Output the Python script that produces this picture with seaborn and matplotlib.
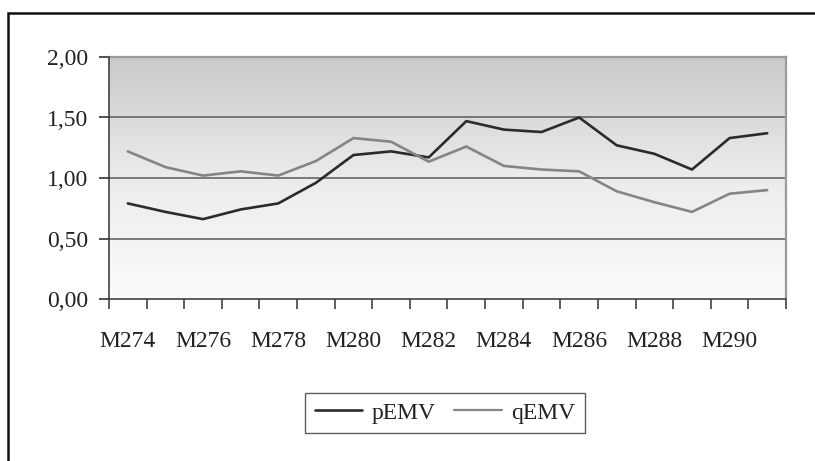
import numpy as np
import pandas as pd
import matplotlib
matplotlib.use("Agg")
import matplotlib.pyplot as plt
from matplotlib.patches import Rectangle
from matplotlib.lines import Line2D
import seaborn as sns

months = ["M274", "M275", "M276", "M277", "M278", "M279", "M280", "M281", "M282",
          "M283", "M284", "M285", "M286", "M287", "M288", "M289", "M290", "M291"]
pemv = [0.79, 0.72, 0.66, 0.74, 0.79, 0.96, 1.19, 1.22, 1.17,
        1.47, 1.40, 1.38, 1.50, 1.27, 1.20, 1.07, 1.33, 1.37]
qemv = [1.22, 1.09, 1.02, 1.055, 1.02, 1.14, 1.33, 1.30, 1.135,
        1.26, 1.10, 1.07, 1.055, 0.89, 0.80, 0.72, 0.87, 0.90]
y_ticks = [0.0, 0.5, 1.0, 1.5, 2.0]

df = pd.DataFrame({
    "Mes": months * 2,
    "Valor": pemv + qemv,
    "Serie": ["pEMV"] * len(months) + ["qEMV"] * len(months),
})

sns.set_theme(style="white")
plt.rcParams["font.family"] = ["Liberation Serif", "DejaVu Serif"]
FS = 17

W, H = 815, 461
fig = plt.figure(figsize=(W / 100, H / 100), dpi=100)
fig.patch.set_facecolor("white")

# chart-area frame (runs off the right and bottom edges)
fig.add_artist(Rectangle((8 / W, -0.05), 1.1, 1.05 - 13 / H, transform=fig.transFigure,
                         fill=False, edgecolor="#111111", linewidth=1.8))

left, right, top, bottom = 109, 786, 57, 299
ax = fig.add_axes([left / W, 1 - bottom / H, (right - left) / W, (bottom - top) / H])

n = len(months)

# vertical grey gradient in the plot area
grad = np.linspace(0, 1, 256).reshape(-1, 1)
cmap = matplotlib.colors.LinearSegmentedColormap.from_list("bg", ["#fbfbfb", "#ebeced", "#c8c9cb"])
ax.imshow(grad, cmap=cmap, origin="lower", extent=(-0.5, n - 0.5, 0, 2.0),
          aspect="auto", zorder=0)

for yv in y_ticks[1:-1]:
    ax.axhline(yv, color="#5a5a5a", linewidth=1.1, zorder=1)

sns.lineplot(data=df, x="Mes", y="Valor", hue="Serie",
             palette={"pEMV": "#2b2b2b", "qEMV": "#858585"},
             linewidth=1.9, ax=ax, legend=False, zorder=3)

ax.set_xlim(-0.5, n - 0.5)
ax.set_ylim(0, 2.0)
ax.set_xlabel("")
ax.set_ylabel("")

# category boundaries carry the tick marks, every other month carries a label
ax.set_xticks(np.arange(-0.5, n, 1.0), minor=True)
ax.set_xticks(np.arange(0, n, 2))
ax.set_xticklabels(months[::2])
ax.tick_params(axis="x", which="major", length=0, pad=23, labelsize=FS, colors="#222222")
ax.tick_params(axis="x", which="minor", length=7, width=1.1, color="#333333", direction="out", bottom=True)

ax.set_yticks(y_ticks)
ax.set_yticklabels([f"{v:.2f}".replace(".", ",") for v in y_ticks])
ax.tick_params(axis="y", length=7, width=1.1, color="#333333", direction="out", left=True,
               pad=8, labelsize=FS, colors="#222222")
ax.tick_params(axis="y", colors="#222222")

for side in ["top", "right"]:
    ax.spines[side].set_visible(True)
    ax.spines[side].set_color("#9a9a9a")
    ax.spines[side].set_linewidth(1.6)
for side in ["left", "bottom"]:
    ax.spines[side].set_color("#333333")
    ax.spines[side].set_linewidth(1.1)
    ax.spines[side].set_zorder(4)

handles = [Line2D([], [], color="#2b2b2b", linewidth=1.9),
           Line2D([], [], color="#858585", linewidth=1.6)]
leg = fig.legend(handles, ["pEMV", "qEMV"], loc="center", bbox_to_anchor=(445 / W, 1 - 413 / H),
                 ncol=2, frameon=True, fancybox=False, fontsize=FS, handlelength=2.0,
                 handletextpad=0.4, columnspacing=0.8, borderpad=0.4)
leg.get_frame().set_edgecolor("#333333")
leg.get_frame().set_linewidth(1.0)
for t in leg.get_texts():
    t.set_color("#222222")

fig.savefig("out.png", dpi=100)
